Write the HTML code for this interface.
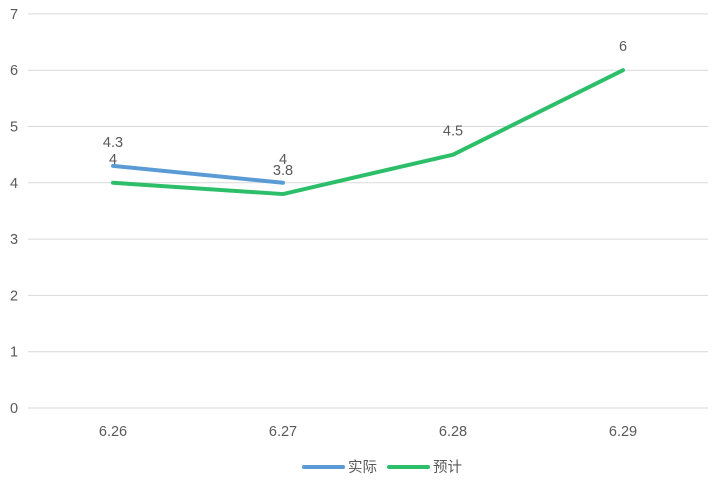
<!DOCTYPE html>
<html><head><meta charset="utf-8"><style>
body{margin:0;background:#fff}
svg text{font-family:"Liberation Sans","Noto Sans CJK SC",sans-serif;fill:#595959}
</style></head><body>
<svg width="716" height="489" xmlns="http://www.w3.org/2000/svg">
<g id="grid"></g><g id="yt"></g><g id="xt"></g><g id="series"></g><g id="labels"></g>
<g>
<line x1="304" y1="467" x2="343" y2="467" stroke="#5B9BD5" stroke-width="4" stroke-linecap="round"/>
<text x="348" y="472" font-size="14.5">实际</text>
<line x1="389" y1="467" x2="428" y2="467" stroke="#2DBE6A" stroke-width="4" stroke-linecap="round"/>
<text x="433" y="472" font-size="14.5">预计</text>
</g>
</svg>
<script>
const categories=["6.26","6.27","6.28","6.29"];
const actual=[4.3,4,null,null];
const forecast=[4,3.8,4.5,6];
const yTicks=[0,1,2,3,4,5,6,7];
const NS="http://www.w3.org/2000/svg";
const x0=28,bw=170,yBase=408,yUnit=56.3;
const xs=i=>x0+bw*(i+0.5);
const ys=v=>yBase-v*yUnit;
function mk(tag,attrs,parent,txt){const e=document.createElementNS(NS,tag);for(const k in attrs)e.setAttribute(k,attrs[k]);if(txt!==undefined)e.textContent=txt;document.getElementById(parent).appendChild(e);return e;}
yTicks.forEach(t=>{
 const l=mk('line',{x1:x0,x2:708,y1:ys(t),y2:ys(t),stroke:'#D9D9D9','stroke-width':1},'grid');
 
 
 const tx=mk('text',{x:14,y:ys(t)+5,'font-size':14.5,'text-anchor':'middle'},'yt',t);
 
 
});
categories.forEach((c,i)=>{
 const tx=mk('text',{x:xs(i),y:436,'font-size':14.5,'text-anchor':'middle'},'xt',c);
 
 
});
function series(vals,color,name){
 const pts=[];vals.forEach((v,i)=>{if(v!==null)pts.push(xs(i)+','+ys(v));});
 const p=mk('polyline',{points:pts.join(' '),fill:'none',stroke:color,'stroke-width':4,'stroke-linecap':'round','stroke-linejoin':'round'},'series');
 
 
 vals.forEach((v,i)=>{if(v===null)return;
  const t=mk('text',{x:xs(i),y:ys(v)-19,'font-size':14.5,'text-anchor':'middle'},'labels',v);
  
  
 });
}
series(actual,'#5B9BD5','actual');
series(forecast,'#2DBE6A','forecast');
</script>
</body></html>
